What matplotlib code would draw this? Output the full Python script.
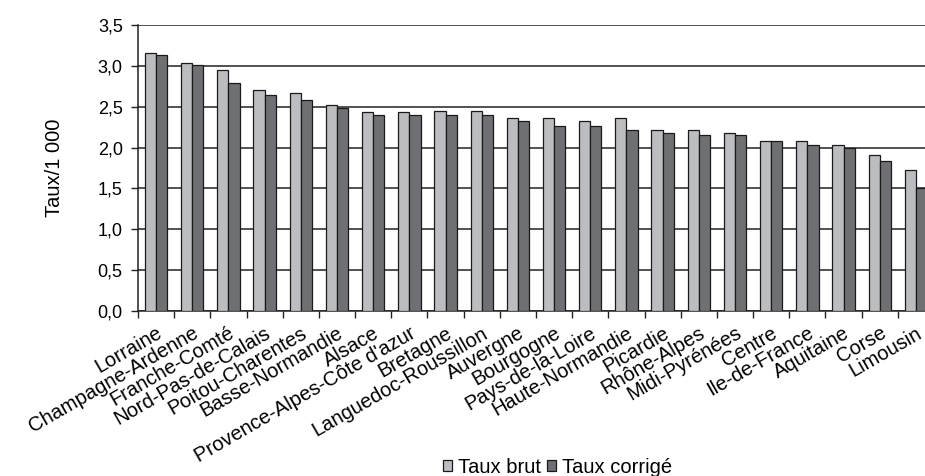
import matplotlib
matplotlib.use("Agg")
import matplotlib.pyplot as plt
import numpy as np

plt.rcParams["font.family"] = ["Liberation Sans", "DejaVu Sans"]

regions = [
    "Lorraine", "Champagne-Ardenne", "Franche-Comté", "Nord-Pas-de-Calais",
    "Poitou-Charentes", "Basse-Normandie", "Alsace", "Provence-Alpes-Côte d'azur",
    "Bretagne", "Languedoc-Roussillon", "Auvergne", "Bourgogne",
    "Pays-de-la-Loire", "Haute-Normandie", "Picardie", "Rhône-Alpes",
    "Midi-Pyrénées", "Centre", "Ile-de-France", "Aquitaine", "Corse", "Limousin",
]
taux_brut = [3.16, 3.04, 2.95, 2.70, 2.67, 2.52, 2.43, 2.43, 2.45, 2.45, 2.36,
             2.36, 2.33, 2.36, 2.21, 2.21, 2.18, 2.08, 2.08, 2.03, 1.91, 1.72]
taux_corrige = [3.13, 3.01, 2.79, 2.64, 2.58, 2.49, 2.40, 2.40, 2.40, 2.40, 2.33,
                2.27, 2.27, 2.21, 2.18, 2.15, 2.15, 2.08, 2.03, 2.00, 1.84, 1.51]
yticks = [0.0, 0.5, 1.0, 1.5, 2.0, 2.5, 3.0, 3.5]

fig = plt.figure(figsize=(9.25, 4.76), dpi=100)
ax = fig.add_axes([138 / 925, 1 - 311 / 476, 796 / 925, 286 / 476])

x = np.arange(len(regions))
w = 0.31
ax.bar(x - w / 2, taux_brut, w, color="#bcbdc1", edgecolor="#1a1a1a",
       linewidth=0.9, label="Taux brut", zorder=3)
ax.bar(x + w / 2, taux_corrige, w, color="#6f7074", edgecolor="#1a1a1a",
       linewidth=0.9, label="Taux corrigé", zorder=3)

ax.set_xlim(-0.5, len(regions) - 0.5)
ax.set_ylim(0, 3.5)
ax.set_yticks(yticks)
ax.set_yticklabels([f"{v:.1f}".replace(".", ",") for v in yticks], fontsize=13)
ax.yaxis.grid(True, color="#222222", linewidth=1.1, zorder=0)
ax.set_axisbelow(True)

ax.set_xticks(x)
ax.set_xticklabels(regions, rotation=30, ha="right", rotation_mode="anchor",
                   fontsize=14.5)
ax.tick_params(axis="x", which="major", length=0, pad=9)
ax.set_xticks(np.arange(-0.5, len(regions)), minor=True)
ax.tick_params(axis="x", which="minor", length=5, width=1, color="#222222")
ax.tick_params(axis="y", length=5, width=1, color="#222222", pad=6)

for side in ("top", "right"):
    ax.spines[side].set_visible(False)
for side in ("left", "bottom"):
    ax.spines[side].set_color("#222222")
    ax.spines[side].set_linewidth(1.1)

ax.set_ylabel("Taux/1 000", fontsize=14.5, labelpad=24)

fig.legend(loc="lower center", bbox_to_anchor=(0.603, -0.04), ncol=2,
           frameon=False, fontsize=14.5, handlelength=0.45, handleheight=0.45,
           handletextpad=0.3, columnspacing=0.3)

fig.savefig("out.png", dpi=100)
